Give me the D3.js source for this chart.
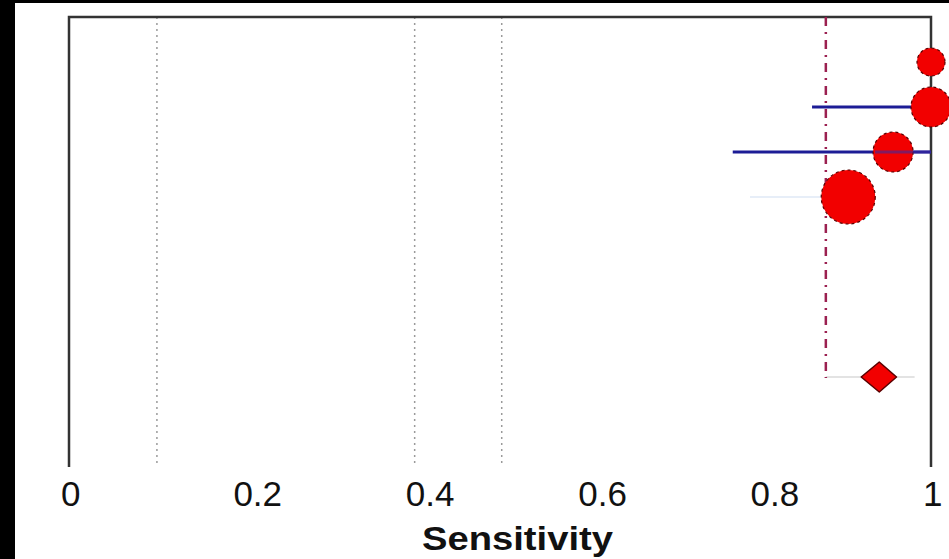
<!DOCTYPE html>
<html>
<head>
<meta charset="utf-8">
<script src="https://cdn.jsdelivr.net/npm/d3@7"></script>
<style>
  html, body { margin: 0; padding: 0; background: #000; }
  svg { display: block; }
</style>
</head>
<body>
<div id="chart"></div>
<script>
// study rows (position on the vertical axis) and their sensitivity estimates
const studyRows = [1, 2, 3, 4];
const studySens = [1.0, 1.0, 0.956, 0.904];
const studyLow = [1.0, 0.862, 0.770, 0.790];
const studyHigh = [1.0, 1.0, 1.0, 0.905];
const studyWeight = [14, 20, 20, 27];

// pooled estimate
const pooledRow = 8;
const pooledSens = 0.940;
const pooledLow = 0.919;
const pooledHigh = 0.960;
const pooledLine = [0.878, 0.981];

// reference lines
const refLine = 0.878;
const dottedLines = [0.102, 0.401, 0.502];
const tickValues = [0, 0.2, 0.4, 0.6, 0.8, 1];

const width = 949;
const height = 559;

const svg = d3.select('#chart')
  .append('svg')
  .attr('width', width)
  .attr('height', height);

// white paper, with the black edge on the left and top
svg.append('rect')
  .attr('x', 15).attr('y', 3)
  .attr('width', width - 15).attr('height', height - 3)
  .attr('fill', '#fff');

const x = d3.scaleLinear().domain([0, 1]).range([69, 931]);
const y = d3.scaleLinear().domain([0, 10]).range([17, 467]);

// grey dotted guides
svg.selectAll('.guide')
  .data(dottedLines)
  .enter()
  .append('line')
  .attr('x1', d => x(d)).attr('x2', d => x(d))
  .attr('y1', y(0)).attr('y2', y(10))
  .attr('stroke', '#9a9a9a')
  .attr('stroke-width', 1.5)
  .attr('stroke-dasharray', '2,4');

// frame: top, left and right
const frame = svg.append('g')
  .attr('stroke', '#333')
  .attr('stroke-width', 2.5)
  .attr('fill', 'none');
frame.append('path')
  .attr('d', `M${x(0)},${y(10)}V${y(0)}H${x(1)}V${y(10)}`);

// pooled line and dashed reference
svg.append('line')
  .attr('x1', x(pooledLine[0])).attr('x2', x(pooledLine[1]))
  .attr('y1', y(pooledRow)).attr('y2', y(pooledRow))
  .attr('stroke', '#c8c8c8')
  .attr('stroke-width', 1.2);

svg.append('line')
  .attr('x1', x(refLine)).attr('x2', x(refLine))
  .attr('y1', y(0)).attr('y2', y(pooledRow) + 1)
  .attr('stroke', '#9b2050')
  .attr('stroke-width', 2.5)
  .attr('stroke-dasharray', '9,6,2,6');

// confidence intervals
const studies = studyRows.map((r, i) => ({
  row: r, sens: studySens[i], low: studyLow[i], high: studyHigh[i], r: studyWeight[i]
}));

svg.selectAll('.ci')
  .data(studies)
  .enter()
  .append('line')
  .attr('x1', d => x(d.low)).attr('x2', d => x(d.high))
  .attr('y1', d => y(d.row)).attr('y2', d => y(d.row))
  .attr('stroke', (d, i) => i === 3 ? '#dfe9f6' : '#1c1c96')
  .attr('stroke-width', (d, i) => i === 3 ? 1.5 : 3);

// study bubbles
svg.selectAll('.bubble')
  .data(studies)
  .enter()
  .append('circle')
  .attr('cx', d => x(d.sens))
  .attr('cy', d => y(d.row))
  .attr('r', d => d.r)
  .attr('fill', '#f20000')
  .attr('stroke', '#5a0000')
  .attr('stroke-width', 1.2)
  .attr('stroke-dasharray', '3,3');

// blue CI drawn again over the third bubble, as in the reference
svg.append('line')
  .attr('x1', x(studySens[2]) - 18).attr('x2', x(studyHigh[2]))
  .attr('y1', y(studyRows[2])).attr('y2', y(studyRows[2]))
  .attr('stroke', '#3a2aa0')
  .attr('stroke-width', 3)
  .attr('opacity', 0.6);

// pooled diamond
svg.append('path')
  .attr('d', () => {
    const yc = y(pooledRow);
    return `M${x(pooledLow)},${yc}L${x(pooledSens)},${yc - 15}L${x(pooledHigh)},${yc}L${x(pooledSens)},${yc + 15}Z`;
  })
  .attr('fill', '#f20000')
  .attr('stroke', '#5a0000')
  .attr('stroke-width', 1.5)
  .attr('stroke-linejoin', 'round');

// tick labels
svg.selectAll('.tick-label')
  .data(tickValues)
  .enter()
  .append('text')
  .attr('x', d => x(d) - 8)
  .attr('y', 506)
  .attr('font-family', 'Liberation Sans, Arial, sans-serif')
  .attr('font-size', 35)
  .attr('fill', '#111')
  .text(d => d3.format('~g')(d));

svg.append('text')
  .attr('x', 422)
  .attr('y', 550)
  .attr('font-family', 'Liberation Sans, Arial, sans-serif')
  .attr('font-size', 33)
  .attr('font-weight', 'bold')
  .attr('fill', '#111')
  .attr('textLength', 191)
  .attr('lengthAdjust', 'spacingAndGlyphs')
  .text('Sensitivity');
</script>
</body>
</html>
